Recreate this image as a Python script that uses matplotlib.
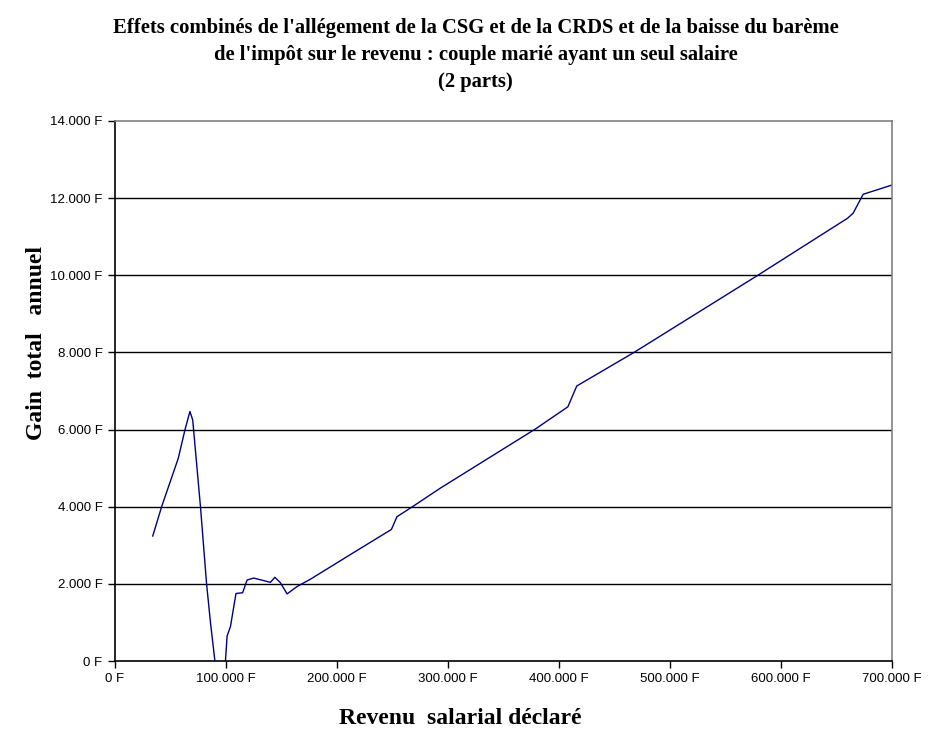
import matplotlib.pyplot as plt
from matplotlib.ticker import FuncFormatter

# revenu salarial declare (F) et gain total annuel (F)
revenu = [34000, 42000, 50000, 57000, 63000, 67500, 70000, 77000, 82500, 86000,
          90000, 95000, 99500, 101000, 104000, 109000, 115000, 119000, 125000,
          140000, 144000, 149000, 155000, 164000, 176000, 220000, 249000,
          254000, 269000, 293000, 379000, 408000, 416000, 467000, 578000,
          660000, 665000, 674000, 700000]
gain = [3240, 4000, 4670, 5255, 5990, 6470, 6250, 4000, 2000, 1000,
        0, -900, 0, 650, 890, 1750, 1770, 2100, 2150,
        2040, 2170, 2030, 1740, 1930, 2120, 2900, 3410,
        3740, 4020, 4480, 6020, 6590, 7130, 7990, 9980,
        11480, 11610, 12100, 12340]

yticks = [0, 2000, 4000, 6000, 8000, 10000, 12000, 14000]
xticks = [0, 100000, 200000, 300000, 400000, 500000, 600000, 700000]

titre = ("Effets combinés de l'allégement de la CSG et de la CRDS et de la baisse du barème\n"
         "de l'impôt sur le revenu : couple marié ayant un seul salaire\n(2 parts)")

def fmt_franc(v, pos):
    return "{:,.0f} F".format(v).replace(",", ".")

fig = plt.figure(figsize=(9.51, 7.48), dpi=100)
ax = fig.add_axes([115/951, 1-661/748, 777/951, 540/748])

ax.plot(revenu, gain, color='#000080', lw=1.0, solid_joinstyle='round')

ax.set_xlim(0, 700000)
ax.set_ylim(0, 14000)
ax.set_xticks(xticks)
ax.set_yticks(yticks)
ax.xaxis.set_major_formatter(FuncFormatter(fmt_franc))
ax.yaxis.set_major_formatter(FuncFormatter(fmt_franc))

for y in yticks[1:-1]:
    ax.axhline(y, color='black', lw=1.0, zorder=1)

for s in ['left', 'bottom']:
    ax.spines[s].set_color('black')
    ax.spines[s].set_linewidth(1.2)
for s in ['top', 'right']:
    ax.spines[s].set_color('#808080')
    ax.spines[s].set_linewidth(1.2)

ax.tick_params(axis='both', direction='out', length=5, width=1, color='black',
               labelsize=9.5, pad=4)
for lab in ax.get_xticklabels() + ax.get_yticklabels():
    lab.set_fontfamily('Liberation Sans')

fig.text(0.5, 1-55/748, titre, ha='center', va='center', fontsize=14.9,
         fontweight='bold', family='Liberation Serif', linespacing=1.5)
fig.text(37/951, 1-343/748, "Gain  total   annuel", rotation=90, ha='center',
         va='center', fontsize=17, fontweight='bold', family='Liberation Serif')
fig.text(460/951, 1-718/748, "Revenu  salarial déclaré", ha='center', va='center',
         fontsize=17, fontweight='bold', family='Liberation Serif')

fig.savefig('out.png', dpi=100)
